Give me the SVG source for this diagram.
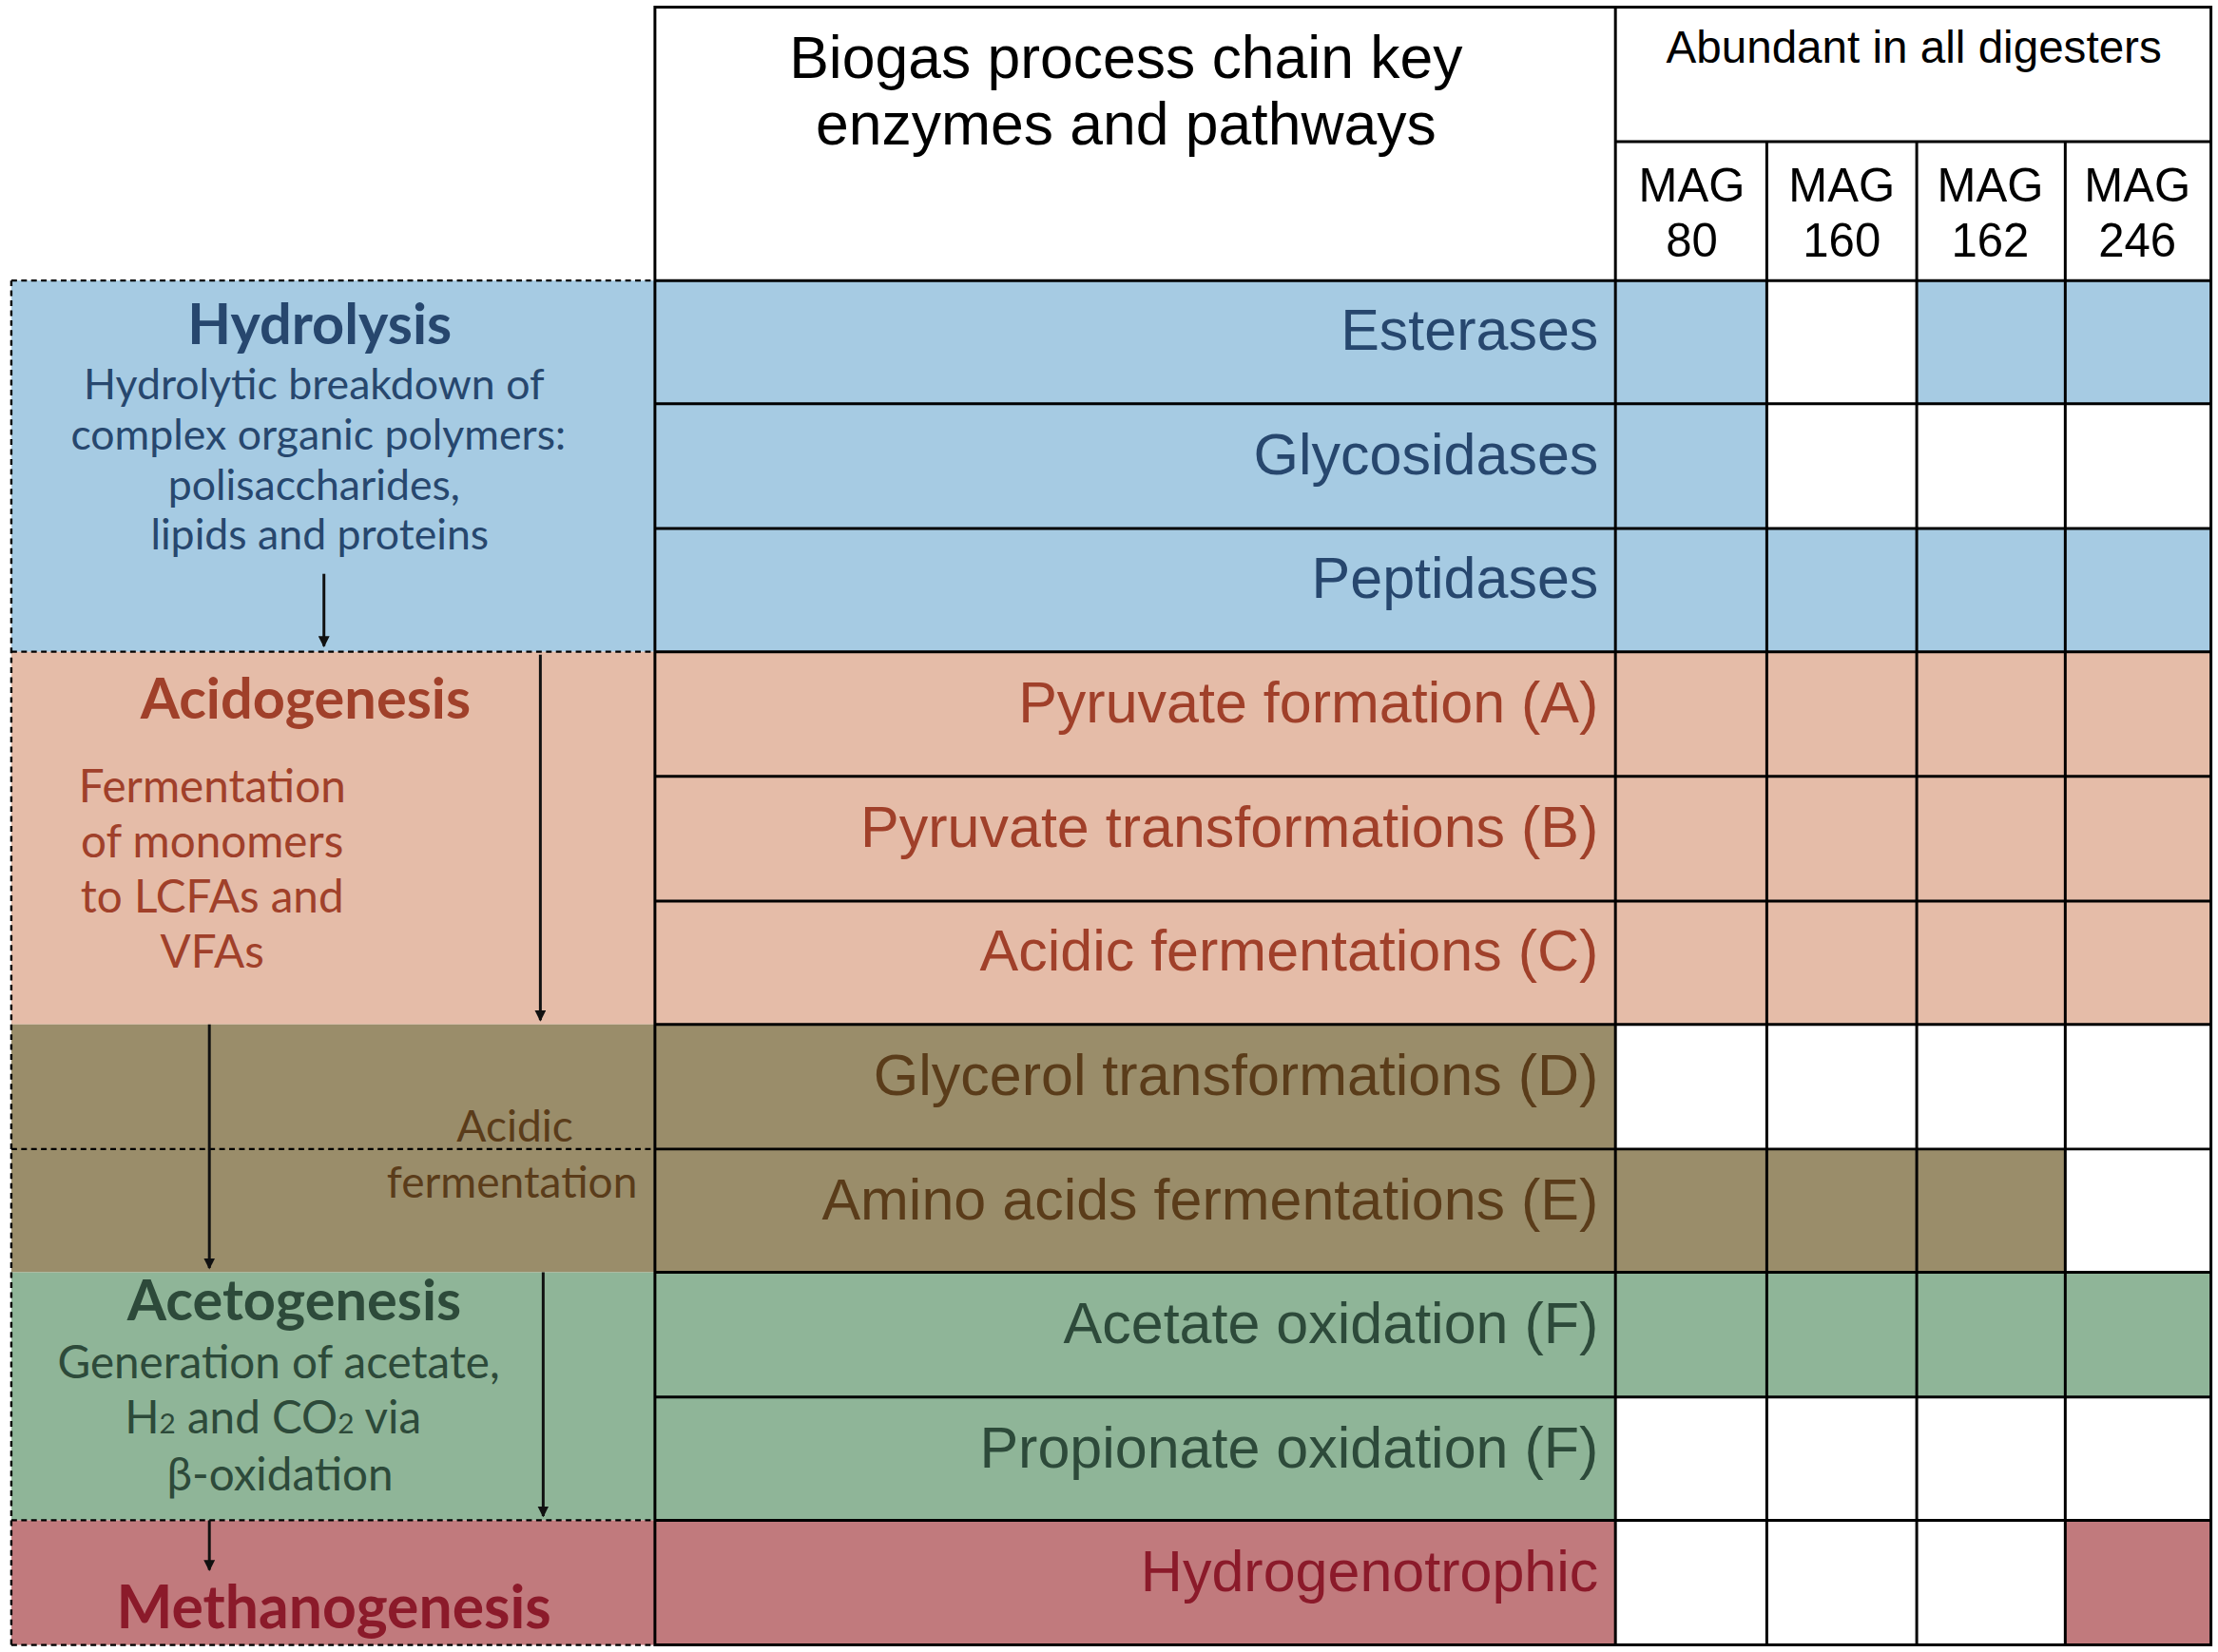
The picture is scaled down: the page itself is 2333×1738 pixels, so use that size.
<svg xmlns="http://www.w3.org/2000/svg" width="2333" height="1738" viewBox="0 0 2333 1738">
<defs>
<marker id="ah" markerWidth="8" markerHeight="8" refX="7" refY="4" orient="auto" markerUnits="userSpaceOnUse" viewBox="0 0 8 8"><path d="M0,0 L8,4 L0,8 Z" fill="#111"/></marker>
<style>
.b{fill:#a6cbe3}.s{fill:#e5bca8}.o{fill:#9a8d6a}.g{fill:#8fb598}.r{fill:#c17a7d}.w{fill:#fff}
.m{font-family:"Liberation Sans",Arial,sans-serif;font-size:41px;text-anchor:end}
.h{font-family:"Liberation Sans",Arial,sans-serif;text-anchor:middle;fill:#000}
.l{font-family:Lato,"Open Sans",sans-serif;text-anchor:middle}
.ln{stroke:#000;stroke-width:2;fill:none}
.d{stroke:#000;stroke-width:1.6;stroke-dasharray:4,3;fill:none}
.ar{stroke:#111;stroke-width:2;marker-end:url(#ah)}
</style>
</defs>
<rect width="2333" height="1738" fill="#fff"/>
<g transform="scale(1.4879,1.4906)">
<g id="left-panel">
<rect class="b" x="8" y="198" width="455" height="262"/>
<rect class="s" x="8" y="460" width="455" height="263"/>
<rect class="o" x="8" y="723" width="455" height="175"/>
<rect class="g" x="8" y="898" width="455" height="175"/>
<rect class="r" x="8" y="1073" width="455" height="88"/>
<path class="d" d="M8,198 H463 M8,460 H463 M8,811 H463 M8,1073 H463 M8,1161 H463 M8,198 V1161"/>
</g>
<g id="hydrolysis" class="l" fill="#27476e">
<text x="226" y="243" font-size="40" font-weight="bold">Hydrolysis</text>
<text x="222" y="282" font-size="30">Hydrolytic breakdown of</text>
<text x="225" y="317" font-size="30">complex organic polymers:</text>
<text x="222" y="353" font-size="30">polisaccharides,</text>
<text x="226" y="388" font-size="30">lipids and proteins</text>
</g>
<g id="acidogenesis" class="l" fill="#a0402a">
<text x="216" y="507" font-size="40" font-weight="bold">Acidogenesis</text>
<text x="150" y="566" font-size="32">Fermentation</text>
<text x="150" y="605" font-size="32">of monomers</text>
<text x="150" y="644" font-size="32">to LCFAs and</text>
<text x="150" y="683" font-size="32">VFAs</text>
</g>
<g id="acidic-fermentation" class="l" fill="#5a3c1a" font-size="31">
<text x="364" y="806">Acidic</text>
<text x="362" y="845">fermentation</text>
</g>
<g id="acetogenesis" class="l" fill="#2d4a3a">
<text x="208" y="932" font-size="40" font-weight="bold">Acetogenesis</text>
<text x="197" y="973" font-size="32">Generation of acetate,</text>
<text x="193" y="1012" font-size="32">H<tspan font-size="20">2</tspan> and CO<tspan font-size="20">2</tspan> via</text>
<text x="198" y="1052" font-size="32">β-oxidation</text>
</g>
<g id="methanogenesis" class="l" fill="#8b1a2a">
<text x="236" y="1149" font-size="42" font-weight="bold">Methanogenesis</text>
</g>
<g id="table">
<rect class="b" x="463" y="198" width="679" height="262"/>
<rect class="s" x="463" y="460" width="679" height="263"/>
<rect class="o" x="463" y="723" width="679" height="175"/>
<rect class="g" x="463" y="898" width="679" height="175"/>
<rect class="r" x="463" y="1073" width="679" height="88"/>
<!-- cells -->
<rect class="b" x="1142" y="198" width="107" height="87"/><rect class="b" x="1355" y="198" width="208" height="87"/>
<rect class="b" x="1142" y="285" width="107" height="88"/>
<rect class="b" x="1142" y="373" width="421" height="87"/>
<rect class="s" x="1142" y="460" width="421" height="263"/>
<rect class="o" x="1142" y="811" width="318" height="87"/>
<rect class="g" x="1142" y="898" width="421" height="88"/>
<rect class="r" x="1460" y="1073" width="103" height="88"/>
<path class="ln" d="M463,5 H1563 V1161 H463 Z M1142,5 V1161 M1142,100 H1563 M1249,100 V1161 M1355,100 V1161 M1460,100 V1161 M463,198 H1563 M463,285 H1563 M463,373 H1563 M463,460 H1563 M463,548 H1563 M463,636 H1563 M463,723 H1563 M463,811 H1563 M463,898 H1563 M463,986 H1563 M463,1073 H1563"/>
<text class="h" x="796" y="55" font-size="42">Biogas process chain key</text>
<text class="h" x="796" y="102" font-size="42">enzymes and pathways</text>
<text class="h" x="1353" y="44" font-size="32">Abundant in all digesters</text>
<g class="h" font-size="33">
<text x="1196" y="142">MAG</text><text x="1196" y="181">80</text>
<text x="1302" y="142">MAG</text><text x="1302" y="181">160</text>
<text x="1407" y="142">MAG</text><text x="1407" y="181">162</text>
<text x="1511" y="142">MAG</text><text x="1511" y="181">246</text>
</g>
<g class="m">
<text x="1130" y="247" fill="#27476e">Esterases</text>
<text x="1130" y="335" fill="#27476e">Glycosidases</text>
<text x="1130" y="422" fill="#27476e">Peptidases</text>
<text x="1130" y="510" fill="#a0402a">Pyruvate formation (A)</text>
<text x="1130" y="598" fill="#a0402a">Pyruvate transformations (B)</text>
<text x="1130" y="685" fill="#a0402a">Acidic fermentations (C)</text>
<text x="1130" y="773" fill="#5a3c1a">Glycerol transformations (D)</text>
<text x="1130" y="861" fill="#5a3c1a">Amino acids fermentations (E)</text>
<text x="1130" y="948" fill="#2d4a3a">Acetate oxidation (F)</text>
<text x="1130" y="1036" fill="#2d4a3a">Propionate oxidation (F)</text>
<text x="1130" y="1123" fill="#8b1a2a">Hydrogenotrophic</text>
</g>
</g>
<g id="connectors">
<line class="ar" x1="229" y1="405" x2="229" y2="456"/>
<line class="ar" x1="382" y1="462" x2="382" y2="720"/>
<line class="ar" x1="148" y1="723" x2="148" y2="895"/>
<line class="ar" x1="384" y1="898" x2="384" y2="1070"/>
<line class="ar" x1="148" y1="1073" x2="148" y2="1108"/>
</g>
</g>
</svg>
